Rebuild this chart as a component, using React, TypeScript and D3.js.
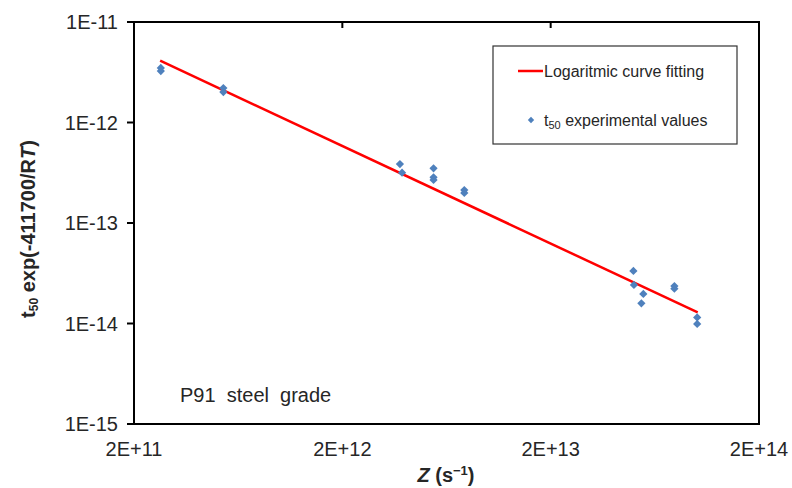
import React from "react";
import * as d3 from "d3";

const W = 792;
const H = 488;

// Experimental values: Z (s^-1) and t50·exp(-411700/RT)
const zValues = [
  2.69e11, 2.69e11,
  5.37e11, 5.37e11,
  3.78e12, 3.87e12,
  5.48e12, 5.48e12, 5.48e12,
  7.7e12, 7.7e12,
  4.99e13, 5.02e13, 5.57e13, 5.45e13,
  7.85e13, 7.85e13,
  1.01e14, 1.01e14,
];
const tValues = [
  3.49e-12, 3.25e-12,
  2.2e-12, 2.01e-12,
  3.86e-13, 3.17e-13,
  3.5e-13, 2.85e-13, 2.68e-13,
  2.13e-13, 1.99e-13,
  3.33e-14, 2.42e-14, 1.97e-14, 1.59e-14,
  2.36e-14, 2.22e-14,
  1.15e-14, 9.9e-15,
];

// Logarithmic fit line endpoints
const fitZ = [2.67e11, 1.016e14];
const fitT = [4.12e-12, 1.29e-14];

const xTickValues = [2e11, 2e12, 2e13, 2e14];
const xTickLabels = ["2E+11", "2E+12", "2E+13", "2E+14"];
const yTickValues = [1e-15, 1e-14, 1e-13, 1e-12, 1e-11];
const yTickLabels = ["1E-15", "1E-14", "1E-13", "1E-12", "1E-11"];

const FONT = "'Liberation Sans', Arial, sans-serif";
const TEXT = "#262626";
const BLUE = "#4f81bd";
const RED = "#ff0000";

export default function App() {
  const left = 134, right = 759, top = 22, bottom = 424;
  const x = d3.scaleLog().domain([2e11, 2e14]).range([left, right]);
  const y = d3.scaleLog().domain([1e-15, 1e-11]).range([bottom, top]);

  const line = d3
    .line<number>()
    .x((_, i) => x(fitZ[i]))
    .y((_, i) => y(fitT[i]));
  const diamond = d3.symbol(d3.symbolSquare, 34)();
  const legendDiamond = d3.symbol(d3.symbolSquare, 20)();

  return (
    <svg
      width={W}
      height={H}
      style={{ position: "absolute", left: 0, top: 0, background: "#fff" }}
      fontFamily={FONT}
    >
      {/* y ticks */}
      {yTickValues.map((v, i) => (
        <g key={"y" + i}>
          <line x1={left - 7} x2={left} y1={y(v)} y2={y(v)} stroke="#000" strokeWidth={2} />
          <text x={left - 16} y={y(v) + 7} fontSize={20} textAnchor="end" fill={TEXT}>
            {yTickLabels[i]}
          </text>
        </g>
      ))}
      {/* x ticks (inside from top) */}
      {xTickValues.map((v, i) => (
        <g key={"x" + i}>
          {i > 0 && i < xTickValues.length - 1 && (
            <line x1={x(v)} x2={x(v)} y1={top} y2={top + 6} stroke="#000" strokeWidth={2} />
          )}
          <text x={x(v)} y={456} fontSize={20} textAnchor="middle" fill={TEXT}>
            {xTickLabels[i]}
          </text>
        </g>
      ))}
      {/* frame */}
      <rect
        x={left}
        y={top}
        width={right - left}
        height={bottom - top}
        fill="none"
        stroke="#000"
        strokeWidth={2}
      />
      {/* fit line */}
      <path d={line(fitZ) || ""} fill="none" stroke={RED} strokeWidth={2.5} />
      {/* points */}
      {zValues.map((z, i) => (
        <path
          key={"p" + i}
          d={diamond || ""}
          transform={`translate(${x(z)},${y(tValues[i])}) rotate(45)`}
          fill={BLUE}
        />
      ))}
      {/* legend */}
      <rect x={493} y={46} width={244} height={98} fill="#fff" stroke="#333" strokeWidth={1.2} />
      <line x1={518} x2={543} y1={71} y2={71} stroke={RED} strokeWidth={2.5} />
      <text x={544} y={77} fontSize={16} fill={TEXT}>
        Logaritmic curve fitting
      </text>
      <path d={legendDiamond || ""} transform="translate(531,120) rotate(45)" fill={BLUE} />
      <text x={544} y={126} fontSize={16} fill={TEXT}>
        t<tspan fontSize={11} dy={3}>50</tspan>
        <tspan dy={-3}> experimental values</tspan>
      </text>
      {/* annotation */}
      <text x={180} y={402} fontSize={20} fill={TEXT} style={{ whiteSpace: "pre" }}>
        {"P91  steel  grade"}
      </text>
      {/* x axis title */}
      <text x={446} y={482} fontSize={20} fontWeight="bold" textAnchor="middle" fill={TEXT}>
        <tspan fontStyle="italic">Z</tspan> (s<tspan fontSize={13} dy={-7}>−1</tspan>
        <tspan dy={7}>)</tspan>
      </text>
      {/* y axis title */}
      <text
        transform="translate(35,229) rotate(-90)"
        fontSize={20}
        fontWeight="bold"
        textAnchor="middle"
        fill={TEXT}
      >
        t<tspan fontSize={12} dy={3}>50</tspan>
        <tspan dy={-3}> exp(-411700/R</tspan>
        <tspan fontStyle="italic">T</tspan>)
      </text>
    </svg>
  );
}
